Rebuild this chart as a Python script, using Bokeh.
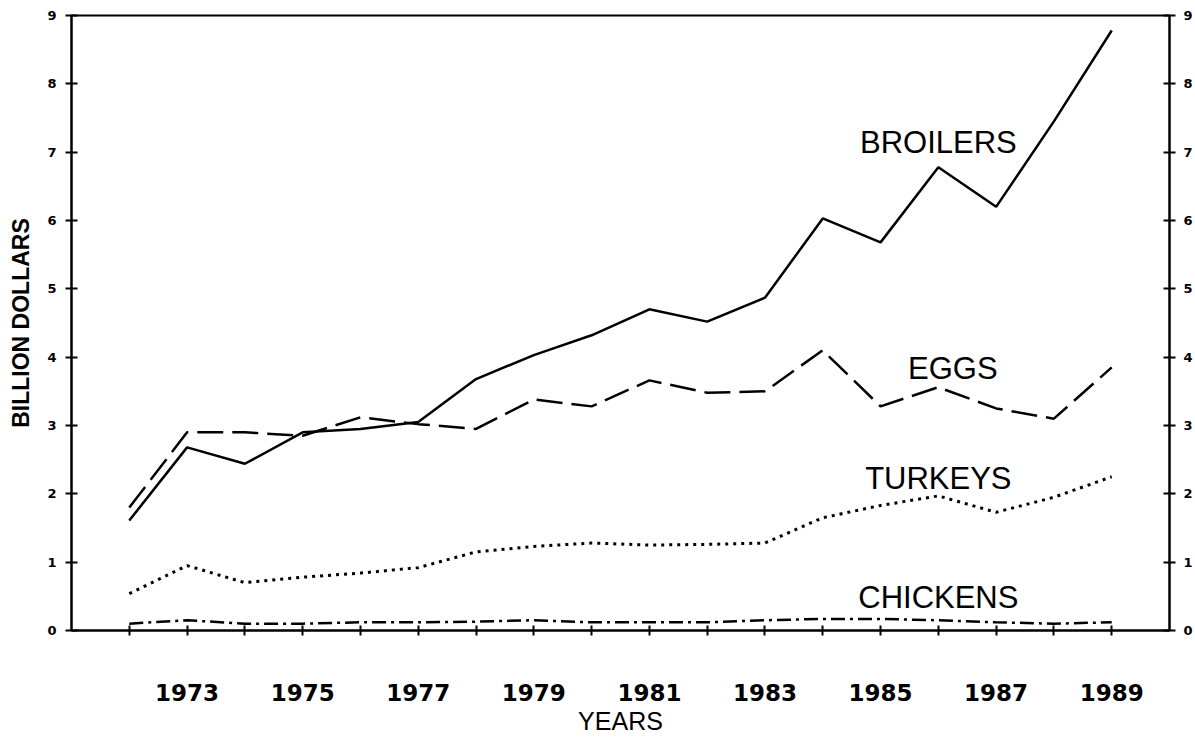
from bokeh.plotting import figure
from bokeh.models import LinearAxis, FixedTicker, Range1d, Label
from bokeh.embed import file_html
from bokeh.resources import INLINE

years = list(range(1972, 1990))
broilers = [1.61, 2.68, 2.44, 2.90, 2.95, 3.05, 3.68, 4.03, 4.32, 4.70, 4.52, 4.87, 6.03, 5.68, 6.78, 6.20, 7.45, 8.78]
eggs = [1.80, 2.90, 2.90, 2.85, 3.12, 3.02, 2.95, 3.38, 3.28, 3.66, 3.48, 3.50, 4.10, 3.28, 3.56, 3.25, 3.10, 3.85]
turkeys = [0.54, 0.95, 0.70, 0.78, 0.84, 0.92, 1.15, 1.23, 1.28, 1.25, 1.26, 1.28, 1.65, 1.83, 1.97, 1.73, 1.95, 2.25]
chickens = [0.10, 0.15, 0.10, 0.10, 0.12, 0.12, 0.13, 0.15, 0.12, 0.12, 0.12, 0.15, 0.17, 0.17, 0.15, 0.12, 0.10, 0.12]

x_ticks = list(range(1972, 1990))
x_labels = {y: (str(y) if y % 2 == 1 else "") for y in x_ticks}
y_ticks = list(range(0, 10))

series_names = ["BROILERS", "EGGS", "TURKEYS", "CHICKENS"]

p = figure(width=1195, height=738, output_backend="svg", toolbar_location=None,
           x_range=Range1d(1971, 1990), y_range=Range1d(0, 9),
           min_border_left=71, min_border_right=24, min_border_top=15, min_border_bottom=108)
p.background_fill_color = "white"
p.border_fill_color = "white"
p.outline_line_color = "black"
p.outline_line_width = 2
p.xgrid.visible = False
p.ygrid.visible = False

tick_font = "DejaVu Sans"


def style_y(ax, standoff):
    ax.ticker = FixedTicker(ticks=y_ticks)
    ax.minor_tick_line_color = None
    ax.major_tick_in = 6
    ax.major_tick_out = 6
    ax.axis_line_width = 2
    ax.axis_line_color = "black"
    ax.major_tick_line_width = 2
    ax.major_tick_line_color = "black"
    ax.major_label_standoff = standoff
    ax.major_label_text_font = tick_font
    ax.major_label_text_font_style = "bold"
    ax.major_label_text_font_size = "13px"
    ax.major_label_text_color = "black"


p.xaxis.ticker = FixedTicker(ticks=x_ticks)
p.xaxis.major_label_overrides = x_labels
p.xaxis.minor_tick_line_color = None
p.xaxis.major_tick_in = 5
p.xaxis.major_tick_out = 5
p.xaxis.axis_line_width = 2
p.xaxis.axis_line_color = "black"
p.xaxis.major_tick_line_width = 2
p.xaxis.major_tick_line_color = "black"
p.xaxis.major_label_standoff = 48
p.xaxis.major_label_text_font = tick_font
p.xaxis.major_label_text_font_style = "bold"
p.xaxis.major_label_text_font_size = "23px"
p.xaxis.major_label_text_color = "black"
p.xaxis.axis_label = "YEARS"
p.xaxis.axis_label_text_font = "Liberation Sans"
p.xaxis.axis_label_text_font_style = "normal"
p.xaxis.axis_label_text_font_size = "25px"
p.xaxis.axis_label_text_color = "black"
p.xaxis.axis_label_standoff = 3

style_y(p.yaxis[0], 9)
p.yaxis.axis_label = "BILLION DOLLARS"
p.yaxis.axis_label_text_font = "Liberation Sans"
p.yaxis.axis_label_text_font_style = "bold"
p.yaxis.axis_label_text_font_size = "23px"
p.yaxis.axis_label_text_color = "black"
p.yaxis.axis_label_standoff = 10

right = LinearAxis()
style_y(right, 8)
p.add_layout(right, "right")

p.line(years, broilers, line_color="black", line_width=2.5)
p.line(years, eggs, line_color="black", line_width=2.5, line_dash="26 9")
p.line(years, turkeys, line_color="black", line_width=3, line_dash="3 5")
p.line(years, chickens, line_color="black", line_width=2.5, line_dash="14 5 3 5")

label_pos = [(1986.0, 7.14), (1986.25, 3.84), (1986.0, 2.22), (1986.0, 0.48)]
for name, (lx, ly) in zip(series_names, label_pos):
    p.add_layout(Label(x=lx, y=ly, text=name, text_align="center", text_baseline="middle",
                       text_font="Liberation Sans", text_font_size="31px", text_color="black"))

open("out.html", "w").write(file_html(p, INLINE))
